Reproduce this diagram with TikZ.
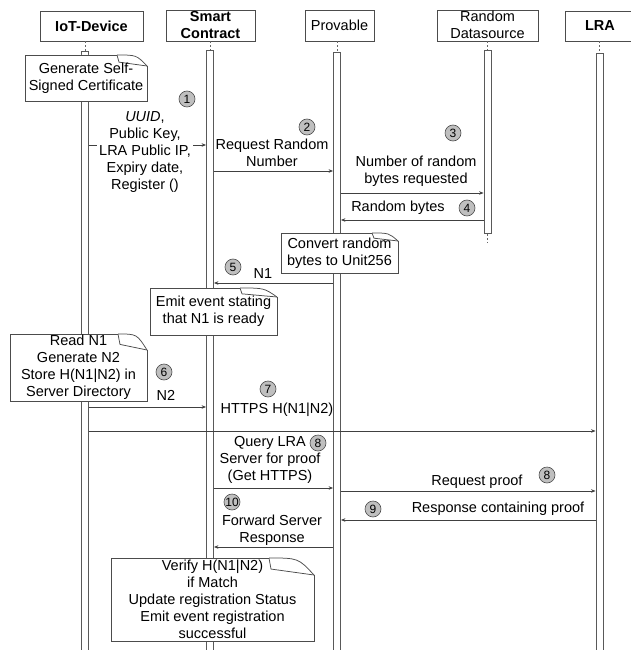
\documentclass[tikz,border=0pt]{standalone}
\usepackage{fontspec}
\setmainfont{Liberation Sans}
\usetikzlibrary{arrows.meta}
\newcommand{\mynote}[8]{%
  \fill[white] (#2,#3) -- (#4-#6,#3) -- (#4,#3+#7) -- (#4,#5) -- (#2,#5) -- cycle;
  \draw[noteline] (#4-#6,#3) -- (#2,#3) -- (#2,#5) -- (#4,#5) -- (#4,#3+#7);
  \draw[noteline] (#4-#6,#3) .. controls (#4-0.35*#6,#3) .. (#4,#3+#7);
  \draw[noteline] (#4-#6,#3) -- (#4-#6+2,#3+0.65*#7) -- (#4,#3+#7);
  \node[notetext] (#1) at ({(#2+#4)/2},{(#3+#5)/2}) {#8};
}
\begin{document}
\begin{tikzpicture}[x=1pt,y=-1pt,
  font=\fontsize{14.5}{17}\selectfont,
  head/.style={draw=black!70, line width=0.8pt, inner sep=0pt, align=center, fill=white},
  bar/.style={draw=black!65, line width=0.8pt, fill=white, minimum width=7pt, inner sep=0pt, anchor=north},
  life/.style={draw=black!60, line width=0.6pt, dash pattern=on 2pt off 2pt},
  msg/.style={draw=black!75, line width=0.75pt, -{Stealth[length=4.5pt,width=3.5pt]}},
  noteline/.style={draw=black!70, line width=0.75pt},
  notetext/.style={inner sep=0pt, align=center},
  lbl/.style={inner sep=1pt, align=center},
  num/.style={circle, draw=black!70, line width=0.6pt, fill=black!25, inner sep=0pt, minimum size=16pt, font=\fontsize{12}{12}\selectfont}
]
\useasboundingbox (0,0) rectangle (630,650);

% headers
\node[head, minimum width=103pt, minimum height=30pt, font=\fontsize{14.5}{17}\selectfont\bfseries] (iot) at (91.5,26) {IoT-Device};
\node[head, minimum width=89pt, minimum height=31pt, font=\fontsize{14.5}{17}\selectfont\bfseries] (sc) at (210.5,25.5) {Smart\\Contract};
\node[head, minimum width=69pt, minimum height=31pt] (prov) at (339.5,25.5) {Provable};
\node[head, minimum width=101pt, minimum height=31pt] (rd) at (487.5,25.5) {};
\node[inner sep=0pt, align=center] (rdtext) at (487.5,24.5) {Random\\Datasource};
\node[head, minimum width=70pt, minimum height=30pt, font=\fontsize{14.5}{17}\selectfont\bfseries] (lra) at (600,26) {LRA};

% activation bars
\node[bar, minimum height=610pt] (iotbar) at (85,51) {};
\node[bar, minimum height=610pt] (scbar) at (210,50) {};
\node[bar, minimum height=610pt] (provbar) at (337,52) {};
\node[bar, minimum height=183pt] (rdbar) at (487.5,50) {};
\node[bar, minimum height=610pt] (lrabar) at (599.5,53) {};

% lifeline stubs
\draw[life] (iotbar.north |- iot.south) -- (iotbar.north);
\draw[life] (scbar.north |- sc.south) -- (scbar.north);
\draw[life] (provbar.north |- prov.south) -- (provbar.north);
\draw[life] (rdbar.north |- rd.south) -- (rdbar.north);
\draw[life] (lrabar.north |- lra.south) -- (lrabar.north);
\coordinate (rdend) at (487.5,243);
\draw[life] (rdbar.south) -- (rdend);

% messages
\draw[msg] (iotbar.east |- 0,145) -- (scbar.west |- 0,145);
\draw[msg] (scbar.east |- 0,171) -- (provbar.west |- 0,171);
\draw[msg] (provbar.east |- 0,193) -- (rdbar.west |- 0,193);
\draw[msg] (rdbar.west |- 0,220) -- (provbar.east |- 0,220);
\draw[msg] (provbar.west |- 0,283) -- (scbar.east |- 0,283);
\draw[msg] (iotbar.east |- 0,407) -- (scbar.west |- 0,407);
\draw[msg] (iotbar.east |- 0,431) -- (lrabar.west |- 0,431);
\draw[msg] (scbar.east |- 0,488) -- (provbar.west |- 0,488);
\draw[msg] (provbar.east |- 0,491) -- (lrabar.west |- 0,491);
\draw[msg] (lrabar.west |- 0,520) -- (provbar.east |- 0,520);
\draw[msg] (provbar.west |- 0,547) -- (scbar.east |- 0,547);

% notes
\mynote{ncert}{25}{55}{147}{101}{30}{11}{Generate Self-\\Signed Certificate}
\mynote{nconv}{281}{233}{398}{273}{26}{8}{Convert random\\bytes to Unit256}
\mynote{nemit}{150}{288}{277}{335}{37}{9}{Emit event stating\\that N1 is ready}
\mynote{nread}{10}{334}{147}{401}{29}{16}{Read N1\\Generate N2\\Store H(N1|N2) in\\Server Directory}
\mynote{nverify}{111}{558}{314}{641}{45}{17}{Verify H(N1|N2)\\if Match\\Update registration Status\\Emit event registration\\successful}

% labels
\node[lbl, fill=white, inner sep=2pt] (t1) at (145,152) {\textit{UUID},\\Public Key,\\LRA Public IP,\\Expiry date,\\Register ()};
\node[lbl] (t2) at (272,153) {Request Random\\Number};
\node[lbl] (t3) at (416,171.5) {Number of random\\bytes requested};
\node[lbl] (t4) at (398,208) {Random bytes};
\node[lbl] (t5) at (263,274) {N1};
\node[lbl] (t6) at (166,395) {N2};
\node[lbl] (t7) at (277,410) {HTTPS H(N1|N2)};
\node[lbl] (t8a) at (270,460) {Query LRA\\Server for proof\\(Get HTTPS)};
\node[lbl] (t8b) at (477,482) {Request proof};
\node[lbl] (t9) at (498,509) {Response containing proof};
\node[lbl] (t10) at (272,530) {Forward Server\\Response};

% step numbers
\node[num] (c1) at (187,99) {1};
\node[num] (c2) at (307,127) {2};
\node[num] (c3) at (453,133) {3};
\node[num] (c4) at (467,208) {4};
\node[num] (c5) at (233,267) {5};
\node[num] (c6) at (164,372) {6};
\node[num] (c7) at (268,389) {7};
\node[num] (c8a) at (318,443) {8};
\node[num] (c8b) at (547,475) {8};
\node[num] (c9) at (373,509) {9};
\node[num] (c10) at (232,502) {10};
\end{tikzpicture}
\end{document}
